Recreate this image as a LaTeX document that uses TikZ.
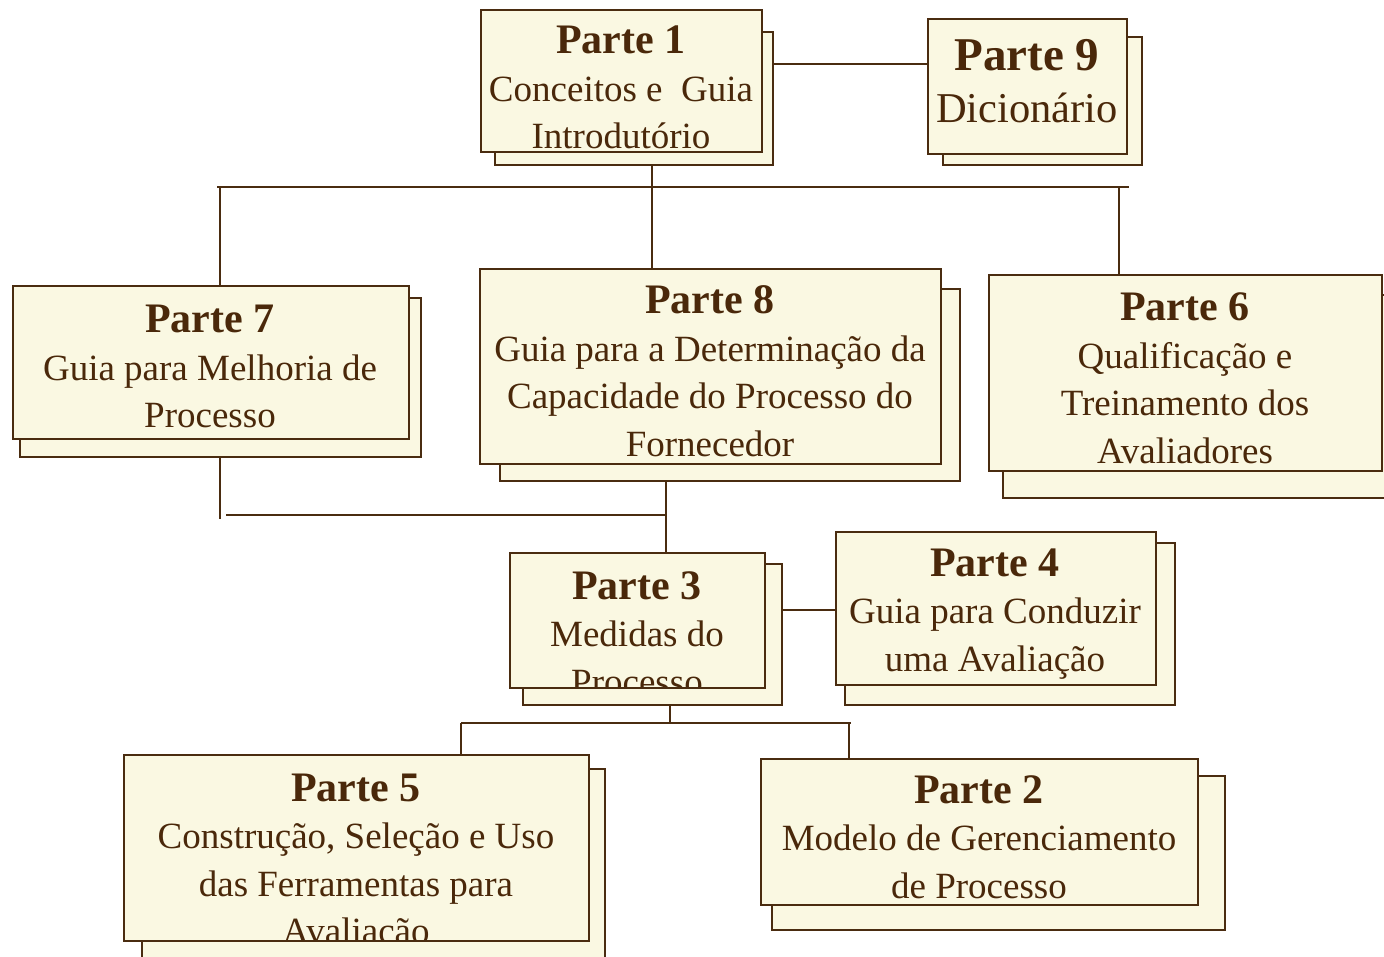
\documentclass[tikz,border=0pt]{standalone}
\usepackage{fontspec}
\setmainfont{Liberation Serif}
\usetikzlibrary{fit}

\definecolor{ink}{RGB}{74,40,10}
\definecolor{wire}{RGB}{74,44,16}
\definecolor{paper}{RGB}{250,248,226}

\tikzset{
  backbox/.style={draw=wire, line width=2.5pt, fill=paper, inner sep=0pt, outer sep=0pt},
  frontfill/.style={fill=paper, inner sep=0pt, outer sep=0pt},
  frame/.style={draw=wire, line width=2.5pt},
  link/.style={draw=wire, line width=2.8pt},
  partlabel/.style={anchor=base, inner sep=0pt, text=ink,
    font=\fontsize{37}{47.5}\selectfont},
}

% bold heading line of a block
\newcommand\ttl[2][42]{{\fontsize{#1}{47.5}\selectfont\bfseries #2}}
% centred lines, first baseline on the node's base
\newcommand\lines[1]{\begin{tabular}[t]{@{}c@{}}#1\end{tabular}}

% #1 name, #2/#3 back corners, #4/#5 front corners, #6 label options, #7 text
\newcommand\parteblock[7]{%
  \node[backbox, fit={#2 #3}] (#1b) {};
  \node[frontfill, fit={#4 #5}] (#1) {};
  \begin{scope}
    \clip (#1.north west) rectangle (#1.south east);
    \node[partlabel, #6] (#1t) {\lines{#7}};
  \end{scope}
  \draw[frame] (#1.north west) rectangle (#1.south east);
}

\begin{document}
\begin{tikzpicture}[x=1pt, y=-1pt]
\useasboundingbox (0,0) rectangle (1384,957);
\fill[white] (0,0) rectangle (1384,957);

% junction points of the connector buses
\coordinate (topL) at (217,187);
\coordinate (topR) at (1129,187);
\coordinate (midL) at (220,519);
\coordinate (midS) at (226,515);
\coordinate (spine) at (666,515);
\coordinate (lowJ) at (670,723);
\coordinate (lowL) at (461,723);
\coordinate (lowR) at (851,723);

% blocks
\parteblock{p1}{(495,32)}{(773,165)}{(481,10)}{(762,152)}{at={(621,54)}}
  {\ttl{Parte 1}\\ Conceitos e\ \ Guia\\ Introdutório}
\parteblock{p9}{(943,37)}{(1142,165)}{(928,19)}{(1127,154)}
  {at={(1027,71)}, font=\fontsize{42.5}{52}\selectfont}
  {\ttl[47]{Parte 9}\\ Dicionário}
\parteblock{p7}{(20,298)}{(421,457)}{(13,286)}{(409,439)}{at={(210,333)}}
  {\ttl{Parte 7}\\ Guia para Melhoria de\\ Processo}
\parteblock{p8}{(500,289)}{(960,481)}{(480,269)}{(941,464)}{at={(710,314)}}
  {\ttl{Parte 8}\\ Guia para a Determinação da\\ Capacidade do Processo do\\ Fornecedor}
\parteblock{p6}{(1003,295)}{(1395,498)}{(989,275)}{(1382,471)}{at={(1185,321)}}
  {\ttl{Parte 6}\\ Qualificação e\\ Treinamento dos\\ Avaliadores}
\parteblock{p3}{(523,564)}{(782,705)}{(510,553)}{(765,688)}{at={(637,599)}}
  {\ttl{Parte 3}\\ Medidas do\\ Processo}
\parteblock{p4}{(845,543)}{(1175,705)}{(836,532)}{(1156,685)}{at={(995,576)}}
  {\ttl{Parte 4}\\ Guia para Conduzir\\ uma Avaliação}
\parteblock{p5}{(142,769)}{(605,970)}{(124,755)}{(589,941)}{at={(356,801)}}
  {\ttl{Parte 5}\\ Construção, Seleção e Uso\\ das Ferramentas para\\ Avaliação}
\parteblock{p2}{(772,776)}{(1225,930)}{(761,759)}{(1198,905)}{at={(979,803)}}
  {\ttl{Parte 2}\\ Modelo de Gerenciamento\\ de Processo}

% Parte 1 -- Parte 9
\draw[link] (p1b.east |- 0,64) -- (p9.west |- 0,64);
% upper bus
\draw[link] (topL) -- (topR);
\draw[link] (p1b.south -| 652,0) -- (p8.north -| 652,0);
\draw[link] (topL -| 220,0) -- (p7.north -| 220,0);
\draw[link] (topR -| 1119,0) -- (p6.north -| 1119,0);
% Parte 7 / Parte 8 down to Parte 3
\draw[link] (p7b.south -| midL) -- (midL);
\draw[link] (midS) -- (spine);
\draw[link] (p8b.south -| spine) -- (p3.north -| spine);
% Parte 3 -- Parte 4
\draw[link] (p3b.east |- 0,610) -- (p4.west |- 0,610);
% lower bus
\draw[link] (p3b.south -| lowJ) -- (lowJ);
\draw[link] (lowL) -- (lowR);
\draw[link] (lowL) -- (p5.north -| lowL);
\draw[link] (lowR -| 849,0) -- (p2.north -| 849,0);
\end{tikzpicture}
\end{document}
